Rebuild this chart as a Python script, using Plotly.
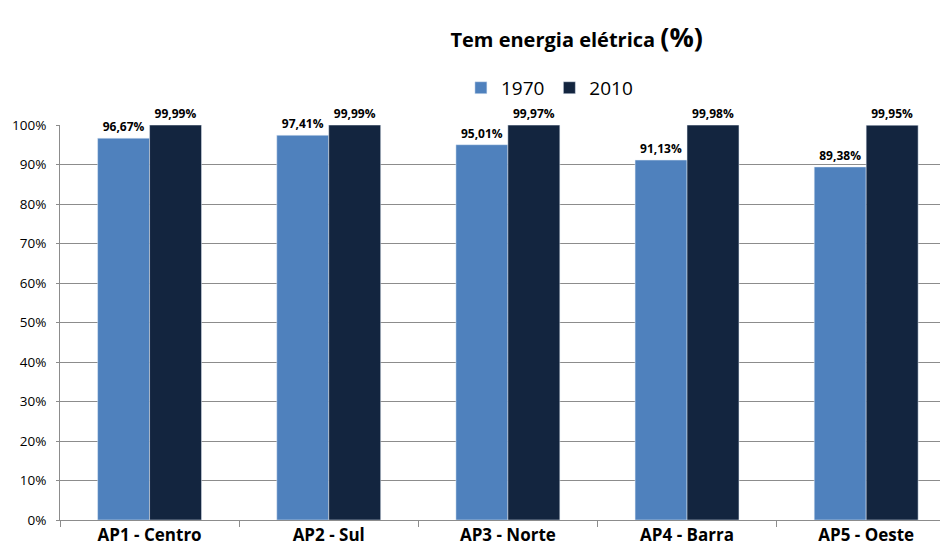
import plotly.graph_objects as go

regioes = ['AP1 - Centro', 'AP2 - Sul', 'AP3 - Norte', 'AP4 - Barra', 'AP5 - Oeste']
v1970 = [0.9667, 0.9741, 0.9501, 0.9113, 0.8938]
v2010 = [0.9999, 0.9999, 0.9997, 0.9998, 0.9995]

fig = go.Figure()

fig.add_trace(go.Bar(x=regioes, y=v1970, name='1970', marker_color='#4F81BD',
                     texttemplate='<b>%{y:.2%}</b>', textposition='outside',
                     textfont=dict(size=12, color='black'), cliponaxis=False))
fig.add_trace(go.Bar(x=regioes, y=v2010, name='2010', marker_color='#13253F',
                     texttemplate='<b>%{y:.2%}</b>', textposition='outside',
                     textfont=dict(size=12, color='black'), cliponaxis=False))

fig.update_layout(
    width=940, height=550,
    margin=dict(l=52, r=3, t=117, b=38),
    paper_bgcolor='white', plot_bgcolor='white',
    font=dict(family='Open Sans', color='black'),
    separators=',.',
    barmode='group', bargap=0.42, bargroupgap=0,
    title=dict(text='<b>Tem energia elétrica <span style="font-size:27px">(%)</span></b>',
               x=0.605, xanchor='center', y=0.942, yanchor='middle',
               font=dict(size=20)),
    legend=dict(orientation='h', x=0.553, xanchor='center', y=1.094, yanchor='middle',
                font=dict(size=19), itemwidth=30, traceorder='normal'),
    uniformtext=dict(minsize=12, mode='show'),
)

fig.update_yaxes(range=[0, 1], tickformat='.0%', dtick=0.1, automargin=False,
                 showgrid=True, gridcolor='#8C8C8C', gridwidth=1,
                 showline=True, linecolor='#8C8C8C', ticks='outside', ticklen=3,
                 tickcolor='#8C8C8C', tickfont=dict(size=13.5), ticklabelstandoff=7,
                 zeroline=False)
fig.update_xaxes(range=[-0.5, 4.44], automargin=False,
                 showline=True, linecolor='#8C8C8C', ticks='outside', ticklen=6,
                 tickcolor='#8C8C8C', tickson='boundaries',
                 tickfont=dict(size=17, family='Open Sans'),
                 tickprefix='<b>', ticksuffix='</b>')

fig.write_html("out.html")
